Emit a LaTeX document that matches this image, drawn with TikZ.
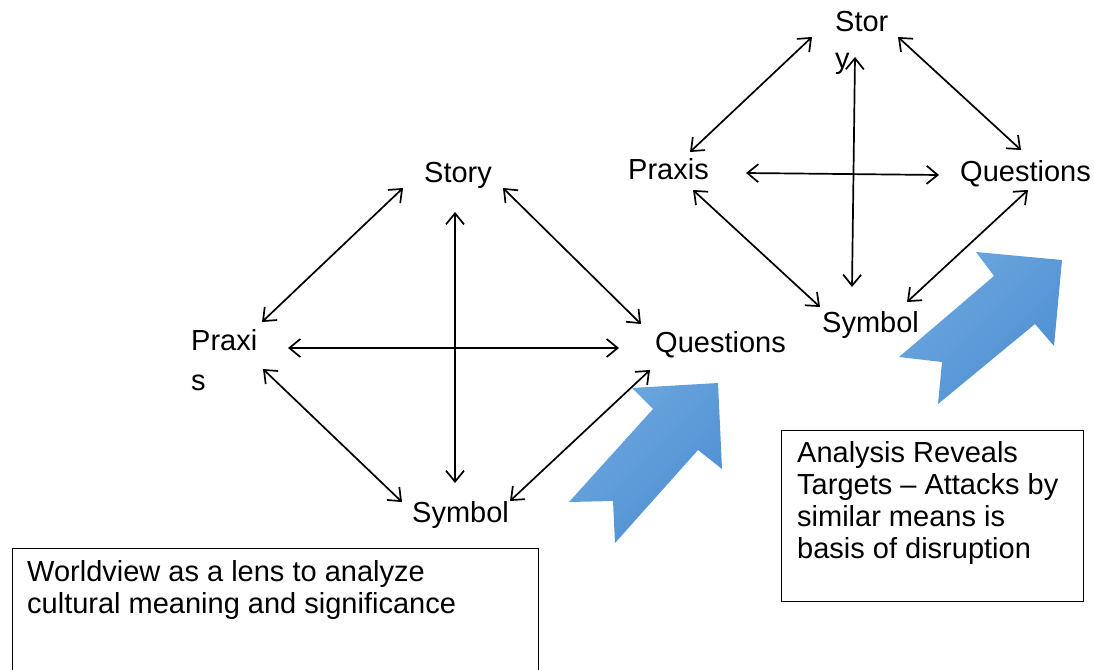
\documentclass[tikz,border=0pt]{standalone}
\usepackage{fontspec}
\setmainfont{Liberation Sans}
\usetikzlibrary{arrows.meta}
\definecolor{chevlight}{HTML}{6DA8DF}
\definecolor{chevdark}{HTML}{4E8ED2}
\tikzset{
  lbl/.style={inner sep=0pt, anchor=base west, align=left,
    font=\fontsize{29}{32}\selectfont},
  link/.style={line width=1.7pt, {Straight Barb[length=11pt,width=18pt]}-{Straight Barb[length=11pt,width=18pt]}},
  frame/.style={draw, line width=0.9pt},
  chevron/.style={draw=none, left color=chevlight, right color=chevdark, shading angle=45}
}
\begin{document}
\begin{tikzpicture}[x=1pt,y=-1pt]
\useasboundingbox (0,0) rectangle (1094,669);
\fill[white] (0,0) rectangle (1094,669);

% ---- left worldview diamond (multi-line labels sit on their last baseline) ----
\node[lbl] (Lstory) at (424,182) {Story};
\node[lbl] (Lpraxis) at (191,390) {Praxi\\[8pt]s};
\node[lbl] (Lquest) at (655,352) {Questions};
\node[lbl] (Lsymbol) at (412,522) {Symbol};

\coordinate (LstA) at (403,188);  \coordinate (LprA) at (262,322);
\coordinate (LstB) at (503,188);  \coordinate (LquA) at (641,324);
\coordinate (LprB) at (288,348);  \coordinate (LquB) at (619,348);
\coordinate (LstC) at (455,212);  \coordinate (LsyA) at (455,483);
\coordinate (LprC) at (263,369);  \coordinate (LsyB) at (402,502);
\coordinate (LsyC) at (510,501);  \coordinate (LquC) at (650,370);

\draw[link] (LstA) -- (LprA);
\draw[link] (LstB) -- (LquA);
\draw[link] (LprB) -- (LquB);
\draw[link] (LstC) -- (LsyA);
\draw[link] (LprC) -- (LsyB);
\draw[link] (LsyC) -- (LquC);

% ---- right worldview diamond ----
\node[lbl] (Rstory) at (835,68) {Stor\\[4pt]y};
\node[lbl] (Rpraxis) at (628,179) {Praxis};
\node[lbl] (Rquest) at (960,181) {Questions};
\node[lbl] (Rsymbol) at (822,332) {Symbol};

\coordinate (RstA) at (812,37);   \coordinate (RprA) at (690,152);
\coordinate (RstB) at (898,37);   \coordinate (RquA) at (1021,150);
\coordinate (RprB) at (746,173);  \coordinate (RquB) at (939,175);
\coordinate (RstC) at (855,57);   \coordinate (RsyA) at (852,287);
\coordinate (RprC) at (693,190);  \coordinate (RsyB) at (820,307);
\coordinate (RsyC) at (907,302);  \coordinate (RquC) at (1028,190);

\draw[link] (RstA) -- (RprA);
\draw[link] (RstB) -- (RquA);
\draw[link] (RprB) -- (RquB);
\draw[link] (RstC) -- (RsyA);
\draw[link] (RprC) -- (RsyB);
\draw[link] (RsyC) -- (RquC);

% ---- blue block arrows ----
\path[chevron] (632,388) -- (718,383) -- (722,469) -- (698,450) -- (615,543)
  -- (613,501) -- (569,502) -- (653,409) -- cycle;
\path[chevron] (976,252) -- (1062,260) -- (1054,346) -- (1035,324) -- (938,404)
  -- (942,362) -- (899,357) -- (994,276) -- cycle;

% ---- caption boxes ----
\begin{scope}
\clip (0,0) rectangle (1094,669);
\draw[frame] (12,548) rectangle (538,690);
\end{scope}
\node[lbl] (Lnote) at (27,613) {Worldview as a lens to analyze\\cultural meaning and significance};

\draw[frame] (781,430) rectangle (1083,601);
\node[lbl] (Rnote) at (797,558) {Analysis Reveals\\Targets -- Attacks by\\similar means is\\basis of disruption};
\end{tikzpicture}
\end{document}
